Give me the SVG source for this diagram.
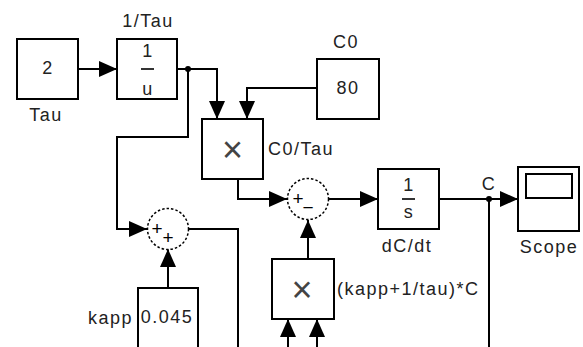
<svg xmlns="http://www.w3.org/2000/svg" width="583" height="347" viewBox="0 0 583 347">
<style>
.blk{fill:#fff;stroke:#000;stroke-width:2}
.sum{fill:#fff;stroke:#000;stroke-width:1.5;stroke-dasharray:2.5 2}
.ln{fill:none;stroke:#000;stroke-width:2}
.ar{fill:none;stroke:#000;stroke-width:2;marker-end:url(#ah)}
.t{font-family:"Liberation Sans",Arial,sans-serif;font-size:18px;fill:#222;letter-spacing:1.5px}
.c{text-anchor:middle}
.s{font-family:"Liberation Sans",Arial,sans-serif;font-size:19px;fill:#000;text-anchor:middle}
.x{font-family:"Liberation Sans",Arial,sans-serif;font-size:36px;fill:#444;text-anchor:middle}
.fr{stroke:#333;stroke-width:2}
</style>
<defs>
<marker id="ah" markerUnits="userSpaceOnUse" viewBox="0 0 18 16" refX="18" refY="8" markerWidth="18" markerHeight="16" orient="auto">
<path d="M0 0 L18 8 L0 16 Z" fill="#000"/>
</marker>
</defs>
<rect width="583" height="347" fill="#fff"/>
<g id="connectors">
<path class="ar" d="M78 69 H117"/>
<path class="ar" d="M177 69 H217 V119"/>
<path class="ar" d="M317 88 H247 V119"/>
<path class="ar" d="M188 69 V137 H117 V229 H147"/>
<path class="ar" d="M168 288 V249"/>
<path class="ln" d="M189 229 H238 V347"/>
<path class="ar" d="M238 179 V199 H287"/>
<path class="ar" d="M308 259 V220"/>
<path class="ar" d="M329 199 H378"/>
<path class="ar" d="M439 199 H518"/>
<path class="ln" d="M489 199 V347"/>
<path class="ar" d="M288 347 V319"/>
<path class="ar" d="M317 347 V319"/>
<circle cx="188" cy="69" r="3" fill="#000"/>
<circle cx="489" cy="199" r="3" fill="#000"/>
</g>
<g id="tau">
<rect class="blk" x="17" y="39" width="61" height="60"/>
<text class="t c" x="48" y="74">2</text>
<text class="t c" x="46" y="121">Tau</text>
</g>
<g id="inv-tau">
<rect class="blk" x="117" y="39" width="60" height="60"/>
<text class="t c" x="148" y="57">1</text>
<line class="fr" x1="141" y1="69" x2="154" y2="69"/>
<text class="t c" x="148" y="95">u</text>
<text class="t c" x="148" y="27">1/Tau</text>
</g>
<g id="c0">
<rect class="blk" x="317" y="59" width="62" height="60"/>
<text class="t c" x="348" y="94">80</text>
<text class="t c" x="346" y="48">C0</text>
</g>
<g id="c0-tau">
<rect class="blk" x="202" y="119" width="61" height="60"/>
<text class="x" x="232.5" y="162">×</text>
<text class="t" x="268" y="155">C0/Tau</text>
</g>
<g id="sum1">
<circle class="sum" cx="168" cy="229" r="20.5"/>
<text class="s" x="157" y="235">+</text>
<text class="s" x="168" y="244">+</text>
</g>
<g id="kapp">
<rect class="blk" x="138" y="288" width="60" height="80"/>
<text class="t c" x="167" y="323">0.045</text>
<text class="t" x="88" y="324">kapp</text>
</g>
<g id="sum2">
<circle class="sum" cx="308" cy="199" r="20.5"/>
<text class="s" x="298" y="205">+</text>
<text class="s" x="308" y="214">−</text>
</g>
<g id="product2">
<rect class="blk" x="272" y="259" width="62" height="60"/>
<text class="x" x="302" y="302">×</text>
<text class="t" x="337" y="295">(kapp+1/tau)*C</text>
</g>
<g id="integrator">
<rect class="blk" x="378" y="169" width="61" height="60"/>
<text class="t c" x="409" y="191">1</text>
<line class="fr" x1="402" y1="199" x2="415" y2="199"/>
<text class="t c" x="409" y="218">s</text>
<text class="t c" x="407" y="252">dC/dt</text>
</g>
<g id="scope">
<rect class="blk" x="518" y="167" width="61" height="64"/>
<rect class="blk" x="526" y="174" width="46" height="24"/>
<text class="t c" x="549" y="253">Scope</text>
</g>
<text class="t c" x="489" y="190">C</text>
</svg>
